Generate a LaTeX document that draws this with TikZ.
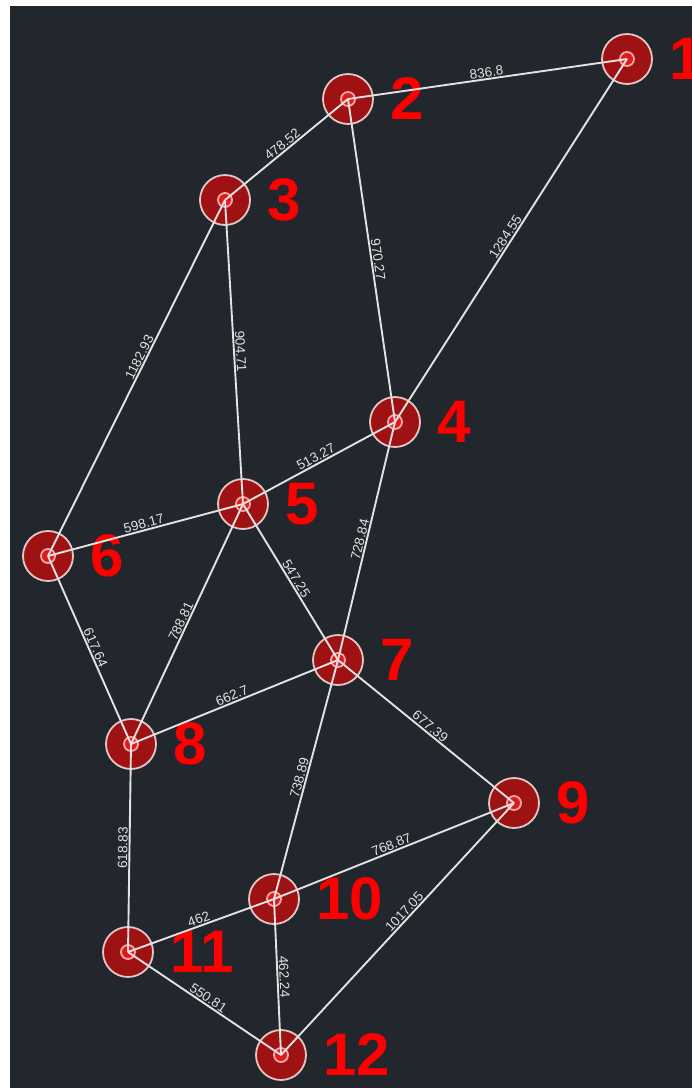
\documentclass[tikz,border=0pt]{standalone}
\usepackage{fontspec}
\setmainfont{Liberation Sans}
\usetikzlibrary{positioning}
\definecolor{bgdark}{RGB}{34,39,46}
\definecolor{vxred}{RGB}{158,18,20}
\definecolor{vxrim}{RGB}{226,198,198}
\definecolor{vxcore}{RGB}{225,25,25}
\definecolor{vxring}{RGB}{240,170,170}
\definecolor{linkgray}{RGB}{226,226,226}
\tikzset{
  vertex/.style={circle, minimum size=50pt, inner sep=0pt, draw=vxrim, line width=1.8pt, fill=vxred,
    path picture={\draw [vxring, line width=1.8pt, fill=vxcore] (path picture bounding box.center) circle (7pt);}},
  numlabel/.style={font=\fontsize{60}{60}\selectfont\bfseries, text=red, inner sep=0pt},
  link/.style={draw=linkgray, line width=1.9pt},
  wlabel/.style={font=\fontsize{13.5}{13.5}\selectfont, text=linkgray, sloped, above, inner sep=1pt, midway}
}
\begin{document}
\begin{tikzpicture}[x=1pt, y=-1pt]
  \useasboundingbox (0,0) rectangle (692,1088);
  \fill [white] (0,0) rectangle (692,1088);
  \fill [bgdark] (10,6) rectangle (692,1088);
  % vertices
  \node (n1) [vertex] at (627,59) {};
  \node (n2) [vertex] at (348,99) {};
  \node (n3) [vertex] at (225,200) {};
  \node (n4) [vertex] at (395,422) {};
  \node (n5) [vertex] at (243,504) {};
  \node (n6) [vertex] at (48,556) {};
  \node (n7) [vertex] at (338,660) {};
  \node (n8) [vertex] at (131,744) {};
  \node (n9) [vertex] at (514,803) {};
  \node (n10) [vertex] at (274,899) {};
  \node (n11) [vertex] at (128,952) {};
  \node (n12) [vertex] at (281,1055) {};
  % numbers
  \node [numlabel, right=16pt of n1] {1};
  \node [numlabel, right=16pt of n2] {2};
  \node [numlabel, right=16pt of n3] {3};
  \node [numlabel, right=16pt of n4] {4};
  \node [numlabel, right=16pt of n5] {5};
  \node [numlabel, right=16pt of n6] {6};
  \node [numlabel, right=16pt of n7] {7};
  \node [numlabel, right=16pt of n8] {8};
  \node [numlabel, right=16pt of n9] {9};
  \node [numlabel, right=16pt of n10] {10};
  \node [numlabel, right=16pt of n11] {11};
  \node [numlabel, right=16pt of n12] {12};
  % links
  \draw [link] (n1.center) -- node [wlabel] {836.8} (n2.center);
  \draw [link] (n2.center) -- node [wlabel] {478.52} (n3.center);
  \draw [link] (n2.center) -- node [wlabel] {970.27} (n4.center);
  \draw [link] (n1.center) -- node [wlabel] {1284.55} (n4.center);
  \draw [link] (n3.center) -- node [wlabel] {904.71} (n5.center);
  \draw [link] (n3.center) -- node [wlabel, pos=0.45] {1182.93} (n6.center);
  \draw [link] (n4.center) -- node [wlabel] {513.27} (n5.center);
  \draw [link] (n5.center) -- node [wlabel] {598.17} (n6.center);
  \draw [link] (n4.center) -- node [wlabel] {728.84} (n7.center);
  \draw [link] (n5.center) -- node [wlabel] {547.25} (n7.center);
  \draw [link] (n5.center) -- node [wlabel] {788.81} (n8.center);
  \draw [link] (n6.center) -- node [wlabel] {617.64} (n8.center);
  \draw [link] (n7.center) -- node [wlabel] {662.7} (n8.center);
  \draw [link] (n7.center) -- node [wlabel] {677.39} (n9.center);
  \draw [link] (n7.center) -- node [wlabel] {738.89} (n10.center);
  \draw [link] (n9.center) -- node [wlabel] {768.87} (n10.center);
  \draw [link] (n8.center) -- node [wlabel] {618.83} (n11.center);
  \draw [link] (n10.center) -- node [wlabel] {462} (n11.center);
  \draw [link] (n9.center) -- node [wlabel, pos=0.45] {1017.05} (n12.center);
  \draw [link] (n10.center) -- node [wlabel] {462.24} (n12.center);
  \draw [link] (n11.center) -- node [wlabel] {550.81} (n12.center);
\end{tikzpicture}
\end{document}
